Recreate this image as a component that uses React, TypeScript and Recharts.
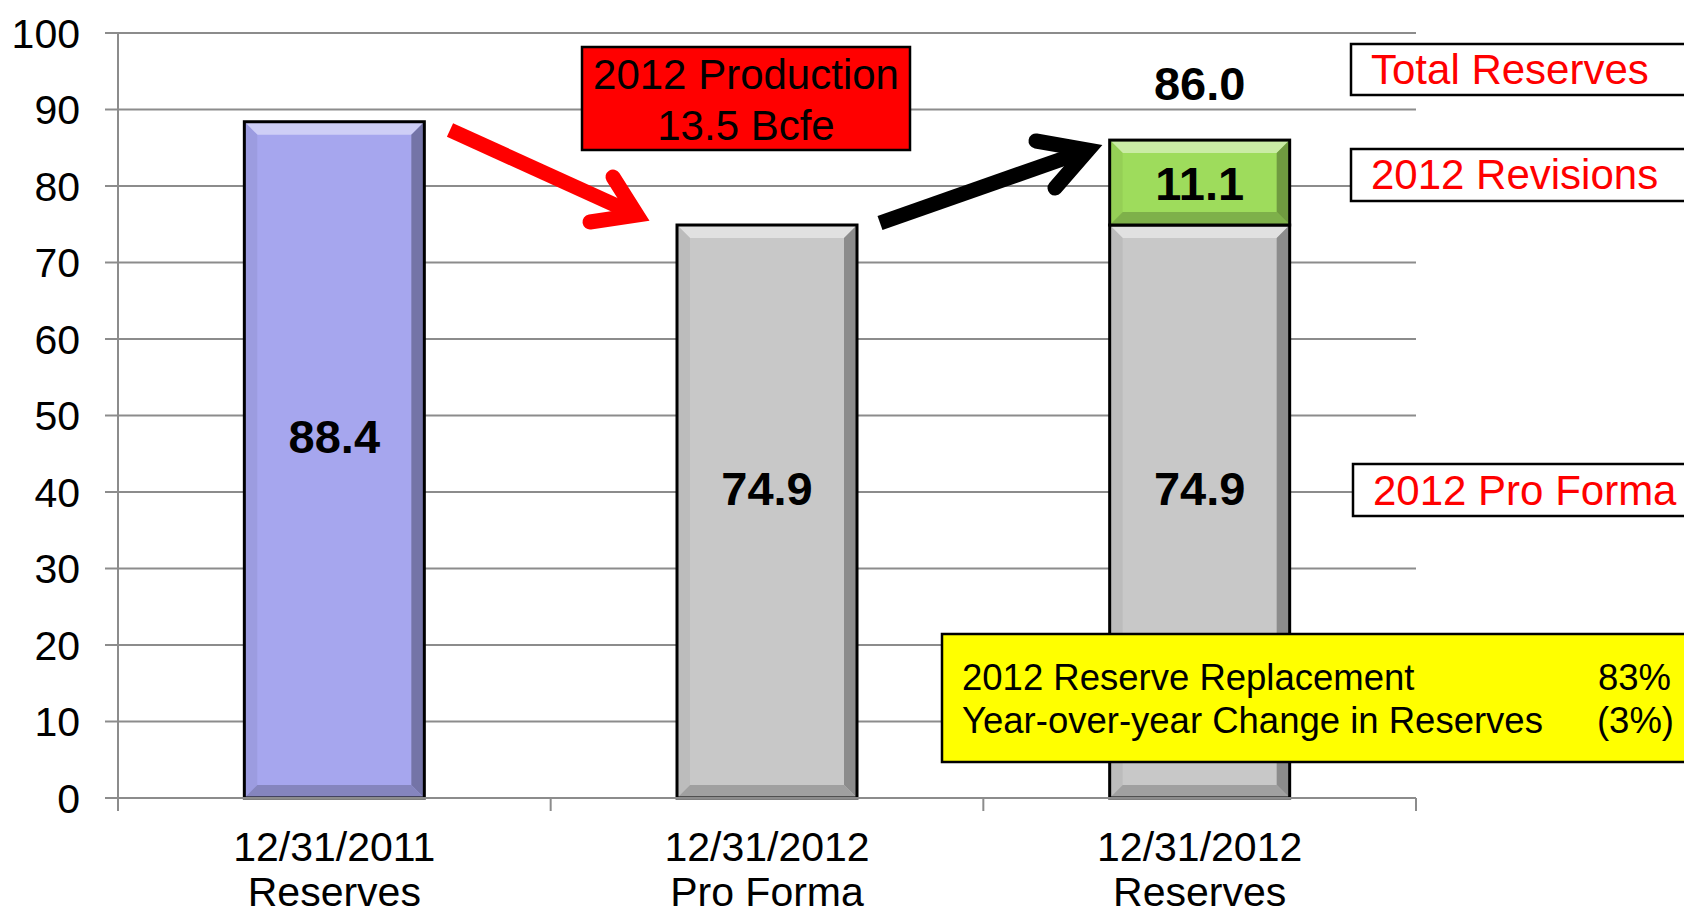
import React from 'react'
import { BarChart, Bar, XAxis, YAxis, CartesianGrid, Cell, LabelList } from 'recharts'

const categories = ['12/31/2011', '12/31/2012', '12/31/2012']
const subLabels = ['Reserves', 'Pro Forma', 'Reserves']
const baseValues = [88.4, 74.9, 74.9]
const revisionValues = [0, 0, 11.1]
const totalValues: (number | null)[] = [null, null, 86.0]
const baseColors = ['#A6A6EE', '#C8C8C8', '#C8C8C8']
const revisionColor = '#9EDC5C'
const yTicks = [0, 10, 20, 30, 40, 50, 60, 70, 80, 90, 100]

const data = categories.map((c, i) => ({
  key: `${c} ${subLabels[i]}`,
  base: baseValues[i],
  revisions: revisionValues[i],
  total: totalValues[i],
}))

const FONT = '"Liberation Sans", Arial, sans-serif'
const GRID = '#8c8c8c'

function mix(hex: string, other: string, t: number): string {
  const a = parseInt(hex.slice(1), 16)
  const b = parseInt(other.slice(1), 16)
  const ch = (v: number, s: number) => (v >> s) & 255
  const m = (s: number) => Math.round(ch(a, s) * (1 - t) + ch(b, s) * t)
  return `rgb(${m(16)},${m(8)},${m(0)})`
}

// bar with the bevelled look of the office chart
function BevelBar(props: any) {
  const { x, y, width, height, fill } = props
  if (!height || height <= 0) return null
  const b = Math.min(13, height / 3, width / 3)
  const r = x + width
  const btm = y + height
  return (
    <g>
      <rect x={x} y={y} width={width} height={height} fill={fill} />
      <polygon points={`${x},${y} ${r},${y} ${r - b},${y + b} ${x + b},${y + b}`} fill={mix(fill, '#ffffff', 0.45)} />
      <polygon points={`${x},${y} ${x + b},${y + b} ${x + b},${btm - b} ${x},${btm}`} fill={mix(fill, '#000000', 0.06)} />
      <polygon points={`${r},${y} ${r},${btm} ${r - b},${btm - b} ${r - b},${y + b}`} fill={mix(fill, '#000000', 0.3)} />
      <polygon points={`${x},${btm} ${x + b},${btm - b} ${r - b},${btm - b} ${r},${btm}`} fill={mix(fill, '#000000', 0.2)} />
      <rect x={x} y={y} width={width} height={height} fill="none" stroke="#000" strokeWidth={3} />
    </g>
  )
}

function XTick(props: any) {
  const { x, y, payload, index, visibleTicksCount } = props
  const half = payload?.offset ?? 216
  return (
    <g>
      <line x1={x - half} x2={x - half} y1={y} y2={y + 13} stroke={GRID} strokeWidth={2} />
      {index === visibleTicksCount - 1 && (
        <line x1={x + half} x2={x + half} y1={y} y2={y + 13} stroke={GRID} strokeWidth={2} />
      )}
      <text x={x} y={y + 63} textAnchor="middle" fontSize={41} fill="#000" fontFamily={FONT}>
        {categories[index]}
      </text>
      <text x={x} y={y + 108} textAnchor="middle" fontSize={41} fill="#000" fontFamily={FONT}>
        {subLabels[index]}
      </text>
    </g>
  )
}

function CenterLabel(props: any) {
  const { x, y, width, height, value, shift = 0 } = props
  if (!value) return null
  return (
    <text x={x + width / 2} y={y + height / 2 + shift} textAnchor="middle" dominantBaseline="central"
      fontSize={47} fontWeight="bold" fill="#000" fontFamily={FONT}>
      {Number(value).toFixed(1)}
    </text>
  )
}

function TotalLabel(props: any) {
  const { x, y, width, value } = props
  if (value == null) return null
  return (
    <text x={x + width / 2} y={y - 40} textAnchor="middle" fontSize={47} fontWeight="bold" fill="#000" fontFamily={FONT}>
      {Number(value).toFixed(1)}
    </text>
  )
}

function Annotations() {
  return (
    <svg width={1684} height={914} style={{ position: 'absolute', left: 0, top: 0, pointerEvents: 'none' }} fontFamily={FONT}>
      {/* production arrow */}
      <line x1={450} y1={130} x2={637} y2={215} stroke="#FF0000" strokeWidth={15} />
      <polyline points="613,177 637,215 590,222" fill="none" stroke="#FF0000" strokeWidth={15} strokeLinecap="round" strokeLinejoin="miter" />
      {/* revisions arrow */}
      <line x1={880} y1={223} x2={1088} y2={150} stroke="#000" strokeWidth={15} />
      <polyline points="1036,141 1088,150 1055,188" fill="none" stroke="#000" strokeWidth={15} strokeLinecap="round" strokeLinejoin="miter" />

      <rect x={582} y={47} width={328} height={103} fill="#FF0000" stroke="#000" strokeWidth={2.5} />
      <text x={746} y={89} textAnchor="middle" fontSize={42} fill="#000">2012 Production</text>
      <text x={746} y={140} textAnchor="middle" fontSize={42} fill="#000">13.5 Bcfe</text>

      <rect x={1351} y={44} width={400} height={51} fill="#fff" stroke="#000" strokeWidth={2.5} />
      <text x={1371} y={84} fontSize={42} fill="#FF0000">Total Reserves</text>
      <rect x={1351} y={149} width={400} height={52} fill="#fff" stroke="#000" strokeWidth={2.5} />
      <text x={1371} y={189} fontSize={42} fill="#FF0000">2012 Revisions</text>
      <rect x={1353} y={464} width={400} height={52} fill="#fff" stroke="#000" strokeWidth={2.5} />
      <text x={1373} y={505} fontSize={42} fill="#FF0000">2012 Pro Forma</text>

      <rect x={942} y={634} width={800} height={128} fill="#FFFF00" stroke="#000" strokeWidth={2.5} />
      <text x={962} y={690} fontSize={36.5} fill="#000">2012 Reserve Replacement</text>
      <text x={1671} y={690} textAnchor="end" fontSize={36.5} fill="#000">83%</text>
      <text x={962} y={733} fontSize={36.5} fill="#000">Year-over-year Change in Reserves</text>
      <text x={1674} y={733} textAnchor="end" fontSize={36.5} fill="#000">(3%)</text>
    </svg>
  )
}

export default function App() {
  return (
    <div style={{ position: 'absolute', left: 0, top: 0, width: 1684, height: 914, background: '#fff', fontFamily: FONT }}>
      <BarChart width={1684} height={914} data={data} margin={{ top: 33, right: 268, bottom: 0, left: 0 }} barCategoryGap="29.2%">
        <CartesianGrid vertical={false} stroke={GRID} strokeWidth={2} />
        <XAxis
          dataKey="key"
          height={116}
          interval={0}
          tickLine={false}
          tickSize={0}
          tickMargin={0}
          axisLine={{ stroke: GRID, strokeWidth: 2 }}
          tick={<XTick />}
        />
        <YAxis
          width={118}
          domain={[0, 100]}
          ticks={yTicks}
          interval={0}
          tickSize={13}
          tickMargin={25}
          axisLine={{ stroke: GRID, strokeWidth: 2 }}
          tickLine={{ stroke: GRID, strokeWidth: 2 }}
          tick={{ fontSize: 41, fill: '#000', fontFamily: FONT }}
        />
        <Bar dataKey="base" stackId="a" shape={<BevelBar />} isAnimationActive={false}>
          {data.map((d, i) => <Cell key={d.key} fill={baseColors[i]} />)}
          <LabelList dataKey="base" content={<CenterLabel shift={-23} />} />
        </Bar>
        <Bar dataKey="revisions" stackId="a" fill={revisionColor} shape={<BevelBar />} isAnimationActive={false}>
          <LabelList dataKey="revisions" content={<CenterLabel shift={1} />} />
          <LabelList dataKey="total" content={<TotalLabel />} />
        </Bar>
      </BarChart>
      <Annotations />
    </div>
  )
}
